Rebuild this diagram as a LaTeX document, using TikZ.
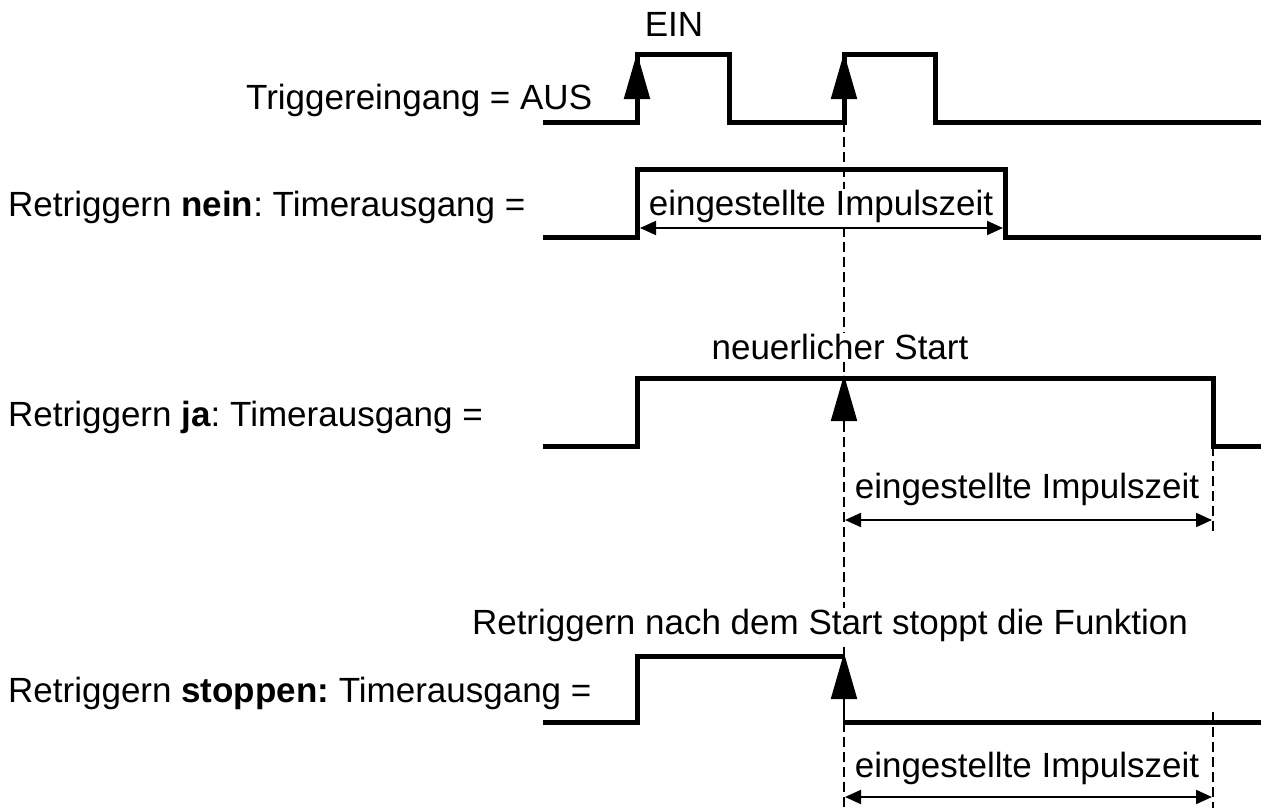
\documentclass[tikz,border=0pt]{standalone}
\usepackage{fontspec}
\setmainfont{Liberation Sans}
\usetikzlibrary{arrows.meta}
\frenchspacing
\begin{document}
\begin{tikzpicture}[x=1pt,y=-1pt,
  signal/.style={line width=5pt, line join=miter},
  guide/.style={line width=1.6pt, dash pattern=on 10pt off 5pt},
  bigtip/.style={line width=2pt, -{Triangle[length=46pt,width=26pt]}},
  span/.style={line width=2pt, {Triangle[length=16pt,width=14pt]}-{Triangle[length=16pt,width=14pt]}},
  lbl/.style={inner sep=0pt, font=\fontsize{35}{40}\selectfont},
  every node/.style={lbl}]
\useasboundingbox (0,0) rectangle (1261,808);
% guide lines
\coordinate (g0) at (844,122);
\coordinate (g1) at (844,808);
\coordinate (h0) at (1213,446);
\coordinate (h1) at (1213,533);
\coordinate (k0) at (1213,712);
\coordinate (k1) at (1213,808);
\draw[guide] (g0) -- (g1);
\draw[guide] (h0) -- (h1);
\draw[guide] (k0) -- (k1);
% row 1: trigger input
\draw[signal] (543,122) -- (637,122) -- (637,55) -- (729,55) -- (729,122) -- (844,122) -- (844,55) -- (935,55) -- (935,122) -- (1261,122);
\coordinate (t1a) at (637,122); \coordinate (t1b) at (637,53);
\coordinate (t2a) at (844,122); \coordinate (t2b) at (844,53);
\draw[bigtip] (t1a) -- (t1b);
\draw[bigtip] (t2a) -- (t2b);
\node[anchor=base] (ein) at (674,37) {EIN};
\node[anchor=base west] (trig) at (246,110) {Triggereingang = AUS};
% row 2: nein
\draw[signal] (543,237) -- (637,237) -- (637,169) -- (1005,169) -- (1005,237) -- (1261,237);
\node[anchor=base west] (nein) at (8,216) {Retriggern \textbf{nein}: Timerausgang =};
\node[anchor=base, fill=white, inner sep=1pt] (imp1) at (821,215) {eingestellte Impulszeit};
\coordinate (s1a) at (640,228); \coordinate (s1b) at (1003,228);
\draw[span] (s1a) -- (s1b);
% row 3: ja
\draw[signal] (543,446) -- (637,446) -- (637,378) -- (1213,378) -- (1213,446) -- (1261,446);
\coordinate (t3a) at (844,422); \coordinate (t3b) at (844,375);
\draw[bigtip] (t3a) -- (t3b);
\node[anchor=base, fill=white, inner sep=1pt] (neu) at (840,359) {neuerlicher Start};
\node[anchor=base west] (ja) at (8,426) {Retriggern \textbf{ja}: Timerausgang =};
\node[anchor=base] (imp2) at (1027,498) {eingestellte Impulszeit};
\coordinate (s2a) at (845,520); \coordinate (s2b) at (1212,520);
\draw[span] (s2a) -- (s2b);
% row 4: stoppen
\draw[signal] (543,722) -- (637,722) -- (637,656) -- (844,656);
\draw[signal] (844,722) -- (1261,722);
\coordinate (t4a) at (844,722); \coordinate (t4b) at (844,653);
\draw[bigtip] (t4a) -- (t4b);
\node[anchor=base, fill=white, inner sep=1pt] (fkt) at (830,634) {Retriggern nach dem Start stoppt die Funktion};
\node[anchor=base west] (stop) at (8,702) {Retriggern \textbf{stoppen:} Timerausgang =};
\node[anchor=base] (imp3) at (1027,777) {eingestellte Impulszeit};
\coordinate (s3a) at (845,797); \coordinate (s3b) at (1212,797);
\draw[span] (s3a) -- (s3b);
\end{tikzpicture}
\end{document}
